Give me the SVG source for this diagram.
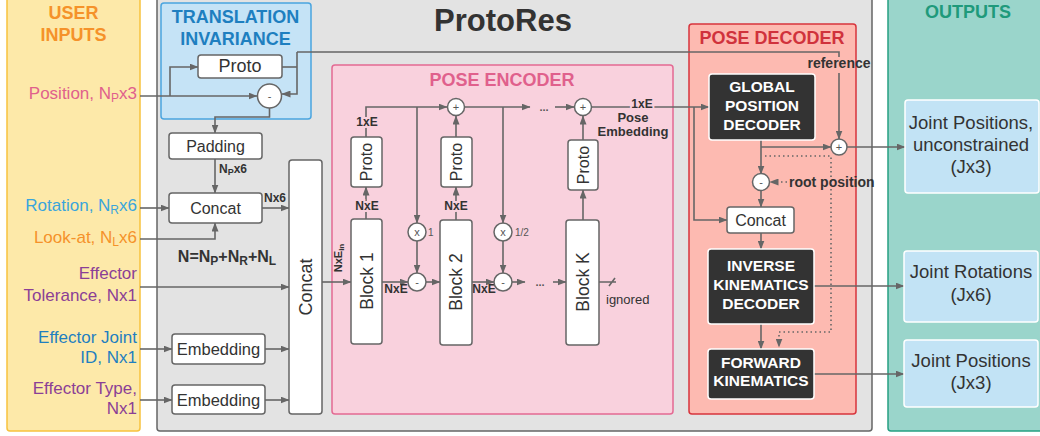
<svg xmlns="http://www.w3.org/2000/svg" width="1040" height="436" viewBox="0 0 1040 436">
<style>
text{font-family:"Liberation Sans",Arial,sans-serif}
.box{fill:#fff;stroke:#666;stroke-width:1.5}
.dark{fill:#333;stroke:#fff;stroke-width:1.5}
.ln{fill:none;stroke:#666;stroke-width:1.6}
.dot{fill:none;stroke:#666;stroke-width:1.6;stroke-dasharray:1.5 3}
.circ{fill:#fff;stroke:#666;stroke-width:1.5}
.t{fill:#333}
.b{font-weight:bold}
.wt{fill:#fff;font-weight:bold;font-size:15.5px;text-anchor:middle}
.halo{paint-order:stroke;stroke:#f9d1dd;stroke-width:4px}
.op{fill:#555;font-size:11px;text-anchor:middle}
</style>
<defs>
<marker id="ah" markerUnits="userSpaceOnUse" markerWidth="9" markerHeight="7" refX="8.5" refY="3.5" orient="auto">
<path d="M0,0 L9,3.5 L0,7 z" fill="#666"/>
</marker>
</defs>

<g id="panels">
<rect x="7" y="-5" width="133" height="436" rx="3" fill="#fde9a9" stroke="#f7c23e" stroke-width="1.5"/>
<text x="73.5" y="19" text-anchor="middle" font-size="18" class="b" fill="#f5922a">USER</text>
<text x="73.5" y="41" text-anchor="middle" font-size="18" class="b" fill="#f5922a">INPUTS</text>
<rect x="157" y="-5" width="715" height="436" rx="3" fill="#e3e3e3" stroke="#666" stroke-width="1.5"/>
<text x="503" y="31" text-anchor="middle" font-size="31" class="b t">ProtoRes</text>
<rect x="888" y="-5" width="160" height="436" rx="3" fill="#9ad5cb" stroke="#26a083" stroke-width="1.5"/>
<text x="968" y="18" text-anchor="middle" font-size="18" class="b" fill="#1f9a7b">OUTPUTS</text>
<rect x="161" y="3" width="150" height="116" rx="3" fill="#c5e3f6" stroke="#4aa5e0" stroke-width="1.5"/>
<text x="235.5" y="23" text-anchor="middle" font-size="18" class="b" fill="#1e7fc0">TRANSLATION</text>
<text x="235.5" y="45" text-anchor="middle" font-size="18" class="b" fill="#1e7fc0">INVARIANCE</text>
<rect x="332" y="65" width="341" height="349" rx="3" fill="#f9d1dd" stroke="#e46a93" stroke-width="1.5"/>
<text x="502" y="86" text-anchor="middle" font-size="18" class="b" fill="#e0608c">POSE ENCODER</text>
<rect x="689" y="24" width="167" height="390" rx="3" fill="#fdbab1" stroke="#d8343d" stroke-width="1.5"/>
<text x="772" y="44" text-anchor="middle" font-size="18" class="b" fill="#d0323c">POSE DECODER</text>
</g>

<g id="inputs" font-size="17" text-anchor="end">
<text x="137" y="99" fill="#e0608c">Position, N<tspan font-size="12" dy="3">P</tspan><tspan dy="-3">x3</tspan></text>
<text x="137" y="211" fill="#3aa5dc">Rotation, N<tspan font-size="12" dy="3">R</tspan><tspan dy="-3">x6</tspan></text>
<text x="137" y="243" fill="#f5922a">Look-at, N<tspan font-size="12" dy="3">L</tspan><tspan dy="-3">x6</tspan></text>
<text x="137" y="279" fill="#8b3f96">Effector</text>
<text x="137" y="301" fill="#8b3f96">Tolerance, Nx1</text>
<text x="137" y="343" fill="#1f7fc0">Effector Joint</text>
<text x="137" y="363" fill="#1f7fc0">ID, Nx1</text>
<text x="137" y="394" fill="#8b3f96">Effector Type,</text>
<text x="137" y="414" fill="#8b3f96">Nx1</text>
</g>

<g id="connectors">
<path class="ln" d="M140,96 H257" marker-end="url(#ah)"/>
<path class="ln" d="M170,96 V67 H198" marker-end="url(#ah)"/>
<path class="ln" d="M282,67 H297"/>
<path class="ln" d="M297,52 V94 H282" marker-end="url(#ah)"/>
<path class="ln" d="M297,52 H839 V57"/>
<path class="ln" d="M839,73 V139" marker-end="url(#ah)"/>
<path class="ln" d="M269.5,108 V117 H215 V133" marker-end="url(#ah)"/>
<path class="ln" d="M215,159 V193" marker-end="url(#ah)"/>
<path class="ln" d="M140,208 H169" marker-end="url(#ah)"/>
<path class="ln" d="M140,239 H215 V223" marker-end="url(#ah)"/>
<path class="ln" d="M262,208 H289" marker-end="url(#ah)"/>
<path class="ln" d="M140,287 H289" marker-end="url(#ah)"/>
<path class="ln" d="M140,349 H172" marker-end="url(#ah)"/>
<path class="ln" d="M265,349 H289" marker-end="url(#ah)"/>
<path class="ln" d="M140,400 H172" marker-end="url(#ah)"/>
<path class="ln" d="M265,400 H289" marker-end="url(#ah)"/>
<path class="ln" d="M322,282 H351" marker-end="url(#ah)"/>
<path class="ln" d="M366,219 V187" marker-end="url(#ah)"/>
<path class="ln" d="M366,137 V107 H447" marker-end="url(#ah)"/>
<path class="ln" d="M417,107 V223" marker-end="url(#ah)"/>
<path class="ln" d="M417,241 V273" marker-end="url(#ah)"/>
<path class="ln" d="M382,282 H408" marker-end="url(#ah)"/>
<path class="ln" d="M426,282 H440" marker-end="url(#ah)"/>
<path class="ln" d="M456,220 V187" marker-end="url(#ah)"/>
<path class="ln" d="M456,137 V116" marker-end="url(#ah)"/>
<path class="ln" d="M465,107 H530" marker-end="url(#ah)"/>
<path class="ln" d="M555,107 H574" marker-end="url(#ah)"/>
<path class="ln" d="M503,107 V223" marker-end="url(#ah)"/>
<path class="ln" d="M503,241 V273" marker-end="url(#ah)"/>
<path class="ln" d="M472,282 H494" marker-end="url(#ah)"/>
<path class="ln" d="M512,282 H525" marker-end="url(#ah)"/>
<path class="ln" d="M553,282 H566" marker-end="url(#ah)"/>
<path class="ln" d="M583,220 V190" marker-end="url(#ah)"/>
<path class="ln" d="M583,140 V116" marker-end="url(#ah)"/>
<path class="ln" d="M599,282 H616 M609,286 L615,278"/>
<path class="ln" d="M592,107 H709" marker-end="url(#ah)"/>
<path class="ln" d="M694,107 V220 H727" marker-end="url(#ah)"/>
<path class="ln" d="M761,140 V174" marker-end="url(#ah)"/>
<path class="ln" d="M761,147 H831" marker-end="url(#ah)"/>
<path class="ln" d="M847,147 H905" marker-end="url(#ah)"/>
<path class="ln" d="M761,191 V207" marker-end="url(#ah)"/>
<path class="ln" d="M761,233 V249" marker-end="url(#ah)"/>
<path class="ln" d="M814,286 H904" marker-end="url(#ah)"/>
<path class="ln" d="M761,324 V349" marker-end="url(#ah)"/>
<path class="ln" d="M814,374 H904" marker-end="url(#ah)"/>
<path class="dot" d="M765,156 H831 V332 H779 V347" marker-end="url(#ah)"/>
<path class="dot" d="M787,182 H770" marker-end="url(#ah)"/>
</g>

<g id="labels" class="b t" font-size="12">
<text x="219" y="173">N<tspan font-size="9" dy="2">P</tspan><tspan dy="-2">x6</tspan></text>
<text x="264" y="202">Nx6</text>
<text x="227" y="262" font-size="16" text-anchor="middle">N=N<tspan font-size="12" dy="3">P</tspan><tspan dy="-3">+N</tspan><tspan font-size="12" dy="3">R</tspan><tspan dy="-3">+N</tspan><tspan font-size="12" dy="3">L</tspan></text>
<text transform="translate(342,258) rotate(-90)" text-anchor="middle" font-size="11">NxE<tspan font-size="8" dy="2">in</tspan></text>
<text class="halo" x="367" y="126" text-anchor="middle">1xE</text>
<text class="halo" x="367" y="210" text-anchor="middle">NxE</text>
<text class="halo" x="456" y="210" text-anchor="middle">NxE</text>
<text x="396" y="293" text-anchor="middle">NxE</text>
<text x="484" y="293" text-anchor="middle">NxE</text>
<text class="halo" x="642" y="108" text-anchor="middle" font-size="12">1xE</text>
<text x="633" y="122" text-anchor="middle" font-size="13">Pose</text>
<text x="633" y="136" text-anchor="middle" font-size="13">Embedding</text>
<text x="839" y="68" text-anchor="middle" font-size="14">reference</text>
<text x="789" y="187" font-size="14">root position</text>
<text x="606" y="304" font-size="13" font-weight="normal">ignored</text>
<text x="544" y="111" class="op">...</text>
<text x="540" y="286" class="op">...</text>
<text x="428" y="236" font-size="10" font-weight="normal" fill="#555">1</text>
<text x="515" y="236" font-size="10" font-weight="normal" fill="#555">1/2</text>
</g>

<g id="ti-proto"><rect class="box" x="198" y="55" width="84" height="23" rx="3"/><text x="240" y="72" text-anchor="middle" font-size="18" class="t">Proto</text></g>
<g id="ti-minus"><circle class="circ" cx="269.5" cy="96" r="12"/><text x="269.5" y="100" class="op">-</text></g>
<g id="padding"><rect class="box" x="169" y="133" width="93" height="26" rx="3"/><text x="215.5" y="152" text-anchor="middle" font-size="16" class="t">Padding</text></g>
<g id="concat-small"><rect class="box" x="169" y="193" width="93" height="30" rx="3"/><text x="215.5" y="214" text-anchor="middle" font-size="16" class="t">Concat</text></g>
<g id="embedding-1"><rect class="box" x="172" y="334" width="93" height="30" rx="3"/><text x="218.5" y="355" text-anchor="middle" font-size="16.5" class="t">Embedding</text></g>
<g id="embedding-2"><rect class="box" x="172" y="385" width="93" height="29" rx="3"/><text x="218.5" y="406" text-anchor="middle" font-size="16.5" class="t">Embedding</text></g>
<g id="concat-big"><rect class="box" x="289" y="160" width="33" height="254" rx="3"/><text transform="translate(311.5,287) rotate(-90)" text-anchor="middle" font-size="18" class="t">Concat</text></g>

<g id="block-1"><rect class="box" x="351" y="219" width="31" height="125" rx="3"/><text transform="translate(372.5,281) rotate(-90)" text-anchor="middle" font-size="17.5" class="t">Block 1</text></g>
<g id="proto-1"><rect class="box" x="351" y="137" width="31" height="50" rx="3"/><text transform="translate(372,162) rotate(-90)" text-anchor="middle" font-size="16" class="t">Proto</text></g>
<g id="block-2"><rect class="box" x="440" y="220" width="32" height="125" rx="3"/><text transform="translate(462,282) rotate(-90)" text-anchor="middle" font-size="17.5" class="t">Block 2</text></g>
<g id="proto-2"><rect class="box" x="441" y="137" width="31" height="50" rx="3"/><text transform="translate(462,162) rotate(-90)" text-anchor="middle" font-size="16" class="t">Proto</text></g>
<g id="block-k"><rect class="box" x="566" y="220" width="33" height="125" rx="3"/><text transform="translate(589,282) rotate(-90)" text-anchor="middle" font-size="17.5" class="t">Block K</text></g>
<g id="proto-k"><rect class="box" x="568" y="140" width="30" height="50" rx="3"/><text transform="translate(589,165) rotate(-90)" text-anchor="middle" font-size="16" class="t">Proto</text></g>
<g id="plus-1"><circle class="circ" cx="456" cy="107" r="8.5"/><text x="456" y="111" class="op">+</text></g>
<g id="plus-k"><circle class="circ" cx="583" cy="107" r="8.5"/><text x="583" y="111" class="op">+</text></g>
<g id="times-1"><circle class="circ" cx="417" cy="232" r="9"/><text x="417" y="236" class="op">x</text></g>
<g id="times-2"><circle class="circ" cx="503" cy="232" r="9"/><text x="503" y="236" class="op">x</text></g>
<g id="minus-1"><circle class="circ" cx="417" cy="282" r="9"/><text x="417" y="286" class="op">-</text></g>
<g id="minus-2"><circle class="circ" cx="503" cy="282" r="9"/><text x="503" y="286" class="op">-</text></g>

<g id="gpd"><rect class="dark" x="709" y="74" width="106" height="66" rx="3"/>
<text x="762" y="92" class="wt">GLOBAL</text><text x="762" y="111" class="wt">POSITION</text><text x="762" y="130" class="wt">DECODER</text></g>
<g id="dec-plus"><circle class="circ" cx="839" cy="147" r="8"/><text x="839" y="151" class="op">+</text></g>
<g id="dec-minus"><circle class="circ" cx="761" cy="182" r="8.5"/><text x="761" y="186" class="op">-</text></g>
<g id="dec-concat"><rect class="box" x="727" y="207" width="67" height="26" rx="3"/><text x="760.5" y="226" text-anchor="middle" font-size="16" class="t">Concat</text></g>
<g id="ikd"><rect class="dark" x="708" y="249" width="106" height="75" rx="3"/>
<text x="761" y="271" class="wt">INVERSE</text><text x="761" y="290" class="wt">KINEMATICS</text><text x="761" y="309" class="wt">DECODER</text></g>
<g id="fk"><rect class="dark" x="708" y="349" width="106" height="50" rx="3"/>
<text x="761" y="368" class="wt">FORWARD</text><text x="761" y="386" class="wt">KINEMATICS</text></g>

<g id="out-1" font-size="18.5" text-anchor="middle"><rect x="905" y="100" width="134" height="93" rx="3" fill="#c2e3f5" stroke="#fff" stroke-width="1.5"/>
<text x="971" y="129" class="t">Joint Positions,</text><text x="971" y="151" class="t">unconstrained</text><text x="971" y="173" class="t">(Jx3)</text></g>
<g id="out-2" font-size="18.5" text-anchor="middle"><rect x="904" y="251" width="134" height="71" rx="3" fill="#c2e3f5" stroke="#fff" stroke-width="1.5"/>
<text x="971" y="278" class="t">Joint Rotations</text><text x="971" y="301" class="t">(Jx6)</text></g>
<g id="out-3" font-size="18.5" text-anchor="middle"><rect x="904" y="340" width="134" height="67" rx="3" fill="#c2e3f5" stroke="#fff" stroke-width="1.5"/>
<text x="971" y="367" class="t">Joint Positions</text><text x="971" y="389" class="t">(Jx3)</text></g>
</svg>
